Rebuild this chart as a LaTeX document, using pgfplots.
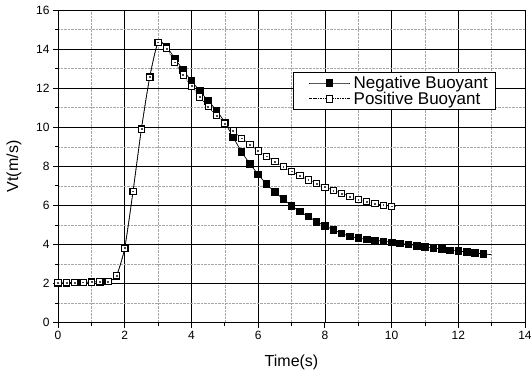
\documentclass[border=0pt]{standalone}
\usepackage{fontspec}
\setmainfont{Liberation Sans}
\usepackage{pgfplots}
\usepackage{pgfplotstable}
\pgfplotsset{compat=1.18}

\pgfplotstableread{
t v
0.00 2.05
0.25 2.05
0.50 2.06
0.75 2.07
1.00 2.08
1.25 2.10
1.50 2.12
1.75 2.40
2.00 3.82
2.25 6.73
2.50 9.91
2.75 12.57
3.00 14.35
3.25 14.12
3.50 13.53
3.75 12.93
4.00 12.37
4.25 11.86
4.50 11.35
4.75 10.87
5.00 10.25
5.25 9.50
5.50 8.75
5.75 8.14
6.00 7.59
6.25 7.09
6.50 6.69
6.75 6.33
7.00 5.99
7.25 5.69
7.50 5.44
7.75 5.17
8.00 4.96
8.25 4.76
8.50 4.57
8.75 4.42
9.00 4.33
9.25 4.27
9.50 4.22
9.75 4.17
10.00 4.11
10.25 4.06
10.50 4.01
10.75 3.94
11.00 3.87
11.25 3.82
11.50 3.77
11.75 3.71
12.00 3.67
12.25 3.62
12.50 3.57
12.75 3.52
}\negdata

\pgfplotstableread{
t v
12.75 3.52
13.00 3.48
}\negtail

\pgfplotstableread{
t v
0.00 2.05
0.25 2.05
0.50 2.06
0.75 2.07
1.00 2.08
1.25 2.10
1.50 2.12
1.75 2.40
2.00 3.82
2.25 6.73
2.50 9.91
2.75 12.57
3.00 14.35
3.25 14.04
3.50 13.33
3.75 12.68
4.00 12.11
4.25 11.55
4.50 11.05
4.75 10.61
5.00 10.20
5.25 9.81
5.50 9.44
5.75 9.13
6.00 8.79
6.25 8.52
6.50 8.24
6.75 7.98
7.00 7.75
7.25 7.52
7.50 7.31
7.75 7.13
8.00 6.94
8.25 6.77
8.50 6.62
8.75 6.47
9.00 6.31
9.25 6.19
9.50 6.09
9.75 6.02
10.00 5.96
}\posdata

\pgfplotstableread{
t v
10.00 5.96
10.12 5.94
}\postail

\begin{document}
\begin{tikzpicture}
\path[use as bounding box] (-58pt,-50.3pt) rectangle (473pt,322.7pt);
\begin{axis}[
  scale only axis,
  width=467pt, height=312.7pt,
  xmin=0, xmax=14, ymin=0, ymax=16,
  xtick={0,2,...,14}, ytick={0,2,...,16},
  minor x tick num=1, minor y tick num=1,
  grid=both,
  major grid style={black, line width=0.6pt},
  minor grid style={gray!70, densely dotted, line width=0.5pt},
  tick align=outside, tick pos=left,
  major tick length=5pt, minor tick length=3pt,
  tick style={black, line width=0.8pt},
  axis line style={line width=0.8pt},
  /pgf/number format/assume math mode=true,
  ticklabel style={font=\fontsize{12}{12}\selectfont},
  xlabel={Time(s)}, ylabel={Vt(m/s)},
  label style={font=\fontsize{16}{16}\selectfont},
  xlabel style={at={(axis description cs:0.5,-0.1257)}, anchor=center},
  ylabel style={at={(axis description cs:-0.0942,0.5)}, anchor=center},
  legend cell align=left,
  legend style={at={(axis description cs:0.9364,0.8027)}, anchor=north east,
    draw=black, line width=0.8pt, fill=white,
    font=\fontsize{17}{17}\selectfont,
    inner xsep=7pt, inner ysep=4pt, row sep=2pt,
    nodes={inner sep=0pt}},
  legend image code/.code={
    \path (0pt,0pt);
    \draw[mark repeat=2,mark phase=2,#1] plot coordinates {(9pt,0pt) (29pt,0pt) (49pt,0pt)};
    \path (53pt,0pt);
  },
]
\addplot[black, line width=0.7pt, smooth, tension=0.4, forget plot] table {\negtail};
\addplot[black, line width=0.7pt, smooth, tension=0.4,
  mark=square*, mark size=3.3pt, mark options={solid, fill=black}] table {\negdata};
\addlegendentry{Negative Buoyant}
\addplot[black, line width=0.7pt, densely dotted, forget plot] table {\postail};
\addplot[black, line width=0.7pt, densely dotted, smooth, tension=0.4,
  mark=square*, mark size=3.1pt, mark options={solid, fill=white, line width=0.8pt}] table {\posdata};
\addlegendentry{Positive Buoyant}
\addplot[only marks, mark=square*, mark size=0.45pt, black!70, forget plot] table {\posdata};
\end{axis}
\end{tikzpicture}
\end{document}
